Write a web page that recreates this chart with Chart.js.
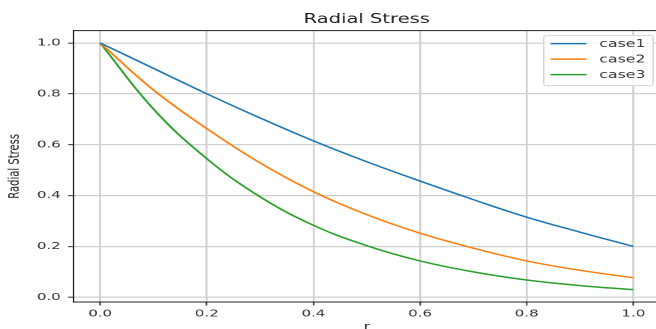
<!DOCTYPE html>
<html>
<head>
<meta charset="utf-8">
<script src="https://cdn.jsdelivr.net/npm/chart.js@4"></script>
<style>
  html, body { margin: 0; padding: 0; overflow: hidden; background: #fff; }
  /* the reference is a horizontally stretched picture, so the chart is drawn narrow and widened */
  #wrap { width: 442px; height: 340px; transform: scaleX(1.5); transform-origin: 0 0; }
</style>
</head>
<body>
<div id="wrap"><canvas id="stress-chart" width="442" height="340"></canvas></div>
<script>
const rValues = [0.0, 0.1, 0.2, 0.3, 0.4, 0.5, 0.6, 0.7, 0.8, 0.9, 1.0];
const case1 = [1.0, 0.90, 0.80, 0.705, 0.615, 0.533, 0.457, 0.384, 0.315, 0.256, 0.20];
const case2 = [1.0, 0.815, 0.663, 0.528, 0.415, 0.325, 0.252, 0.193, 0.143, 0.106, 0.077];
const case3 = [1.0, 0.74, 0.545, 0.395, 0.283, 0.203, 0.143, 0.10, 0.068, 0.046, 0.03];
const seriesNames = ['case1', 'case2', 'case3'];
const seriesColors = ['#1f77b4', '#ff7f0e', '#2ca02c'];
const xTicks = [0.0, 0.2, 0.4, 0.6, 0.8, 1.0];
const yTicks = [0.0, 0.2, 0.4, 0.6, 0.8, 1.0];

const font = 'DejaVu Sans';
const toPoints = (vals) => rValues.map((r, i) => ({ x: r, y: vals[i] }));

// matplotlib style legend box in the upper right of the plot
const boxLegend = {
  id: 'boxLegend',
  afterDatasetsDraw(chart) {
    const { ctx, chartArea } = chart;
    const sets = chart.data.datasets;
    const w = 73, rowH = 15.5, h = 19 + rowH * (sets.length - 1);
    const right = chartArea.right - 4.5, top = chartArea.top + 5;
    const left = right - w;
    ctx.save();
    ctx.beginPath();
    ctx.roundRect(left, top, w, h, 2);
    ctx.fillStyle = 'rgba(255,255,255,0.85)';
    ctx.fill();
    ctx.strokeStyle = '#d6d6d6';
    ctx.lineWidth = 1;
    ctx.stroke();
    ctx.font = '10.5px "' + font + '"';
    ctx.textBaseline = 'middle';
    ctx.fillStyle = '#333';
    sets.forEach((ds, i) => {
      const y = top + 8 + i * rowH;
      ctx.beginPath();
      ctx.moveTo(left + 4.5, y);
      ctx.lineTo(left + 28.5, y);
      ctx.strokeStyle = ds.borderColor;
      ctx.lineWidth = 1.5;
      ctx.stroke();
      ctx.fillText(ds.label, left + 37, y + 0.5);
    });
    ctx.restore();
  }
};

// top and right spines
const spines = {
  id: 'spines',
  afterDraw(chart) {
    const { ctx, chartArea: a } = chart;
    ctx.save();
    ctx.strokeStyle = '#222';
    ctx.lineWidth = 1;
    ctx.beginPath();
    ctx.moveTo(a.left, a.top);
    ctx.lineTo(a.right, a.top);
    ctx.lineTo(a.right, a.bottom);
    ctx.stroke();
    ctx.restore();
  }
};

const config = {
  type: 'line',
  data: {
    datasets: [case1, case2, case3].map((vals, i) => ({
      label: seriesNames[i],
      data: toPoints(vals),
      borderColor: seriesColors[i],
      backgroundColor: seriesColors[i],
      borderWidth: 1.5,
      pointRadius: 0,
      fill: false,
      tension: 0.4
    }))
  },
  options: {
    responsive: false,
    devicePixelRatio: 2,
    animation: false,
    layout: { padding: { left: 0, right: 2, top: 0, bottom: 0 } },
    plugins: {
      legend: { display: false },
      tooltip: { enabled: false },
      title: {
        display: true,
        text: 'Radial Stress',
        fullSize: false,
        color: '#222',
        font: { family: font, size: 13, weight: 'normal' },
        padding: { top: 12, bottom: 3 }
      }
    },
    scales: {
      x: {
        type: 'linear',
        min: -0.05,
        max: 1.05,
        afterBuildTicks: (s) => { s.ticks = xTicks.map(v => ({ value: v })); },
        afterFit: (s) => { s.height = 38; },
        grid: { color: '#d0d0d0', lineWidth: 1.3, tickColor: '#333', tickLength: 3.5, tickWidth: 1 },
        border: { display: true, color: '#222', width: 1 },
        ticks: {
          color: '#333',
          padding: 2.5,
          maxRotation: 0,
          font: { family: font, size: 10 },
          callback: (v) => v.toFixed(1)
        },
        title: {
          display: true,
          text: 'r',
          color: '#222',
          font: { family: font, size: 10 },
          padding: { top: 0, bottom: 7 }
        }
      },
      y: {
        min: -0.0185,
        max: 1.0485,
        afterBuildTicks: (s) => { s.ticks = yTicks.map(v => ({ value: v })); },
        afterFit: (s) => { s.width = 49; },
        grid: { color: '#d0d0d0', lineWidth: 1.3, tickColor: '#333', tickLength: 3.5, tickWidth: 1 },
        border: { display: true, color: '#222', width: 1 },
        ticks: {
          color: '#333',
          padding: 5,
          font: { family: font, size: 10 },
          callback: (v) => v.toFixed(1)
        },
        title: {
          display: true,
          text: 'Radial Stress',
          color: '#222',
          font: { family: font, size: 10 },
          padding: { top: 4, bottom: 0 }
        }
      }
    }
  },
  plugins: [boxLegend, spines]
};

const chart = new Chart(document.getElementById('stress-chart'), config);
</script>
</body>
</html>
